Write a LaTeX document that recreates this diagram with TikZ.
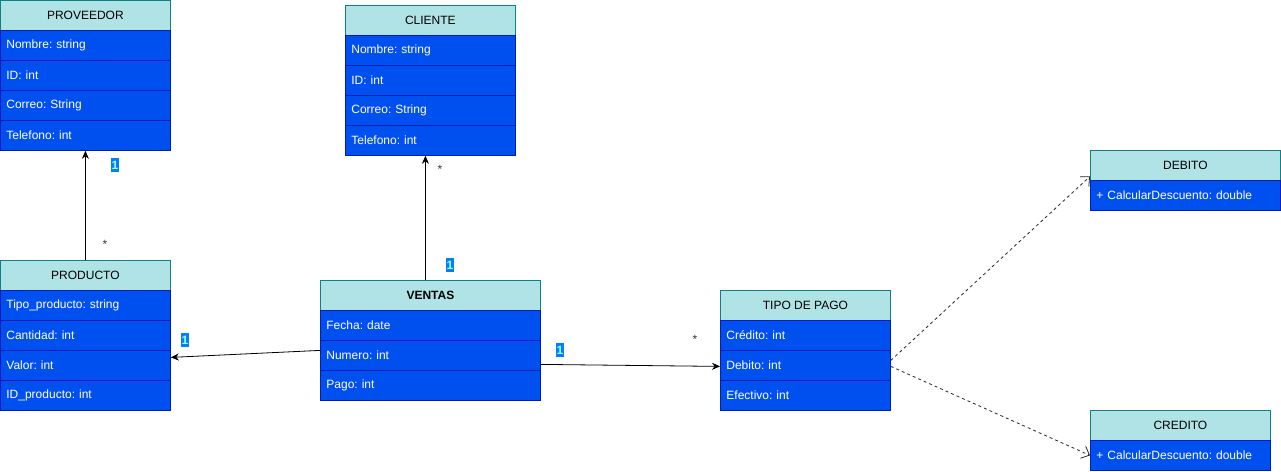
\documentclass[tikz,border=0pt]{standalone}
\usepackage{fontspec}
\setmainfont{Liberation Sans}
\usetikzlibrary{arrows.meta}
\frenchspacing
\definecolor{hdrfill}{HTML}{B0E3E6}
\definecolor{hdrline}{HTML}{0E8088}
\definecolor{rowfill}{HTML}{0050EF}
\definecolor{rowline}{HTML}{001DBC}
\definecolor{lblfill}{HTML}{007FFF}
\definecolor{lbltext}{HTML}{A5FFD6}
\definecolor{stargray}{HTML}{333333}
\tikzset{
  hdr/.style={draw=hdrline, fill=hdrfill, line width=0.8pt, anchor=north west,
    minimum height=30pt, minimum width=#1, inner sep=0pt, text=black,
    font=\fontsize{12}{14}\selectfont},
  row/.style={draw=rowline, fill=rowfill, line width=0.8pt, anchor=north west,
    minimum height=30pt, text width=#1, inner xsep=6pt, inner ysep=0pt, align=left,
    text=white, font=\fontsize{12}{14}\selectfont\frenchspacing},
  assoc/.style={draw=black, line width=0.8pt, -{Stealth[length=8pt,width=7pt]}},
  realiz/.style={draw=black!85, line width=0.8pt, dash pattern=on 3pt off 3pt,
    -{Straight Barb[length=7pt,width=13pt,line width=0.8pt]}},
  one/.style={fill=lblfill, text=lbltext, inner xsep=0.5pt, inner ysep=0pt,
    minimum height=14pt, font=\fontsize{12}{12}\selectfont\bfseries},
  many/.style={text=stargray, inner sep=0pt, font=\fontsize{12}{12}\selectfont},
}
\begin{document}
\begin{tikzpicture}[x=1pt,y=-1pt]
\useasboundingbox (0,0) rectangle (1281,471);
% PROVEEDOR
\node[hdr=170pt] (prov) at (0,0) {PROVEEDOR};
\node[row=158pt] (prov1) at (0,30) {Nombre: string};
\node[row=158pt] (prov2) at (0,60) {ID: int};
\node[row=158pt] (prov3) at (0,90) {Correo: String};
\node[row=158pt] (prov4) at (0,120) {Telefono: int};
% CLIENTE
\node[hdr=170pt] (cli) at (345,5) {CLIENTE};
\node[row=158pt] (cli1) at (345,35) {Nombre: string};
\node[row=158pt] (cli2) at (345,65) {ID: int};
\node[row=158pt] (cli3) at (345,95) {Correo: String};
\node[row=158pt] (cli4) at (345,125) {Telefono: int};
% PRODUCTO
\node[hdr=170pt] (prod) at (0,260) {PRODUCTO};
\node[row=158pt] (prod1) at (0,290) {Tipo\_producto: string};
\node[row=158pt] (prod2) at (0,320) {Cantidad: int};
\node[row=158pt] (prod3) at (0,350) {Valor: int};
\node[row=158pt] (prod4) at (0,380) {ID\_producto: int};
% VENTAS
\node[hdr=220pt, font=\fontsize{12}{14}\selectfont\bfseries] (vent) at (320,280) {VENTAS};
\node[row=208pt] (vent1) at (320,310) {Fecha: date};
\node[row=208pt] (vent2) at (320,340) {Numero: int};
\node[row=208pt] (vent3) at (320,370) {Pago: int};
% TIPO DE PAGO
\node[hdr=170pt] (tip) at (720,290) {TIPO DE PAGO};
\node[row=158pt] (tip1) at (720,320) {Crédito: int};
\node[row=158pt] (tip2) at (720,350) {Debito: int};
\node[row=158pt] (tip3) at (720,380) {Efectivo: int};
% DEBITO
\node[hdr=190pt] (deb) at (1090,150) {DEBITO};
\node[row=178pt] (deb1) at (1090,180) {+ CalcularDescuento: double};
% CREDITO
\node[hdr=180pt] (cre) at (1090,410) {CREDITO};
\node[row=168pt] (cre1) at (1090,440) {+ CalcularDescuento: double};
% connectors
\draw[assoc] (prod.north) -- (prov4.south);
\draw[assoc] ([xshift=-5pt]vent.north) -- ([xshift=-5pt]cli4.south);
\draw[assoc] ([yshift=5pt]vent2.west) -- ([yshift=8pt]prod3.east);
\draw[assoc] ([yshift=-9pt]vent2.east) -- ([yshift=-1pt]tip2.west);
\draw[realiz] ([yshift=5pt]tip2.east) -- ([yshift=-11pt]deb.west);
\draw[realiz] ([yshift=-1pt]tip2.east) -- (cre1.west);
% multiplicities
\node[one] (l1) at (115,165) {1};
\node[many] (s1) at (105,244) {*};
\node[many] (s2) at (440,169) {*};
\node[one] (l2) at (450,265) {1};
\node[one] (l3) at (185,340) {1};
\node[one] (l4) at (560,350) {1};
\node[many] (s3) at (695,339) {*};
\end{tikzpicture}
\end{document}
